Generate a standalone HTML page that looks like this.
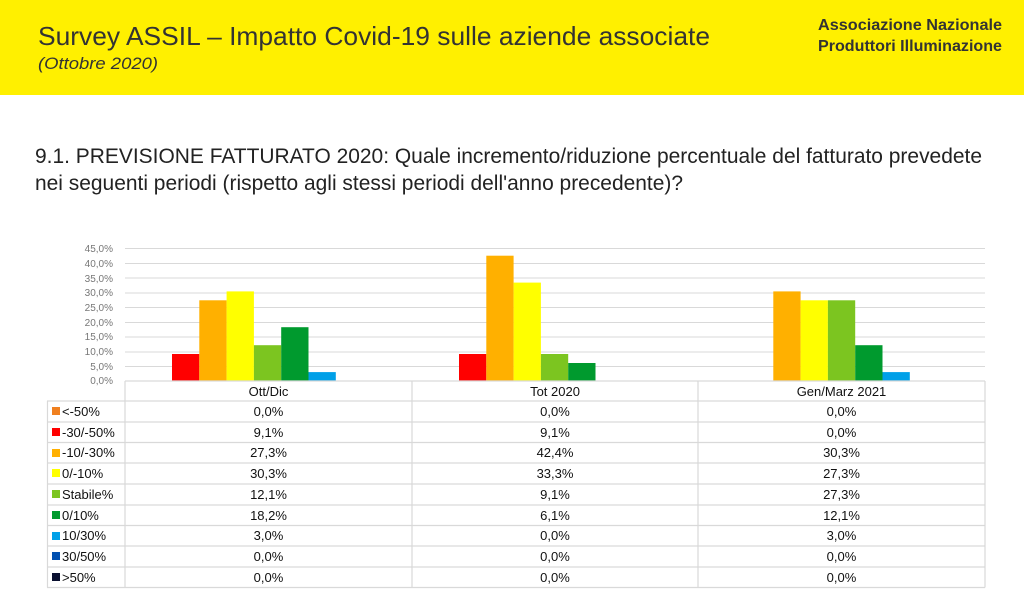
<!DOCTYPE html><html><head><meta charset="utf-8"><style>body{margin:0;background:#fff}svg{display:block}</style></head><body>
<svg width="1024" height="613" xmlns="http://www.w3.org/2000/svg" font-family="Liberation Sans, sans-serif">
<rect x="0" y="0" width="1024" height="95" fill="#FFF000"/>
<text x="38" y="45" font-size="26" fill="#333" textLength="672" lengthAdjust="spacingAndGlyphs">Survey ASSIL – Impatto Covid-19 sulle aziende associate</text>
<text x="38" y="69" font-size="17" font-style="italic" fill="#333" textLength="120" lengthAdjust="spacingAndGlyphs">(Ottobre 2020)</text>
<text x="818" y="30" font-size="16" font-weight="bold" fill="#333" textLength="184" lengthAdjust="spacingAndGlyphs">Associazione Nazionale</text>
<text x="818" y="51" font-size="16" font-weight="bold" fill="#333" textLength="184" lengthAdjust="spacingAndGlyphs">Produttori Illuminazione</text>
<text x="35" y="163" font-size="21" fill="#222" textLength="947" lengthAdjust="spacingAndGlyphs">9.1. PREVISIONE FATTURATO 2020: Quale incremento/riduzione percentuale del fatturato prevedete</text>
<text x="35" y="190" font-size="21" fill="#222" textLength="648" lengthAdjust="spacingAndGlyphs">nei seguenti periodi (rispetto agli stessi periodi dell'anno precedente)?</text>
<g stroke="#d9d9d9" stroke-width="1">
<line x1="125" y1="248.5" x2="985" y2="248.5"/><line x1="125" y1="263.5" x2="985" y2="263.5"/><line x1="125" y1="278" x2="985" y2="278"/><line x1="125" y1="293" x2="985" y2="293"/><line x1="125" y1="307.5" x2="985" y2="307.5"/><line x1="125" y1="322.5" x2="985" y2="322.5"/><line x1="125" y1="337" x2="985" y2="337"/><line x1="125" y1="352" x2="985" y2="352"/><line x1="125" y1="366.5" x2="985" y2="366.5"/>
</g>
<g font-size="10" fill="#777" text-anchor="end">
<text x="113" y="252">45,0%</text><text x="113" y="267">40,0%</text><text x="113" y="282">35,0%</text><text x="113" y="296">30,0%</text><text x="113" y="311">25,0%</text><text x="113" y="326">20,0%</text><text x="113" y="340">15,0%</text><text x="113" y="355">10,0%</text><text x="113" y="370">5,0%</text><text x="113" y="384">0,0%</text>
</g>
<g>
<rect x="172" y="354" width="27.3" height="27" fill="#FF0000"/>
<rect x="199.3" y="300.3" width="27.3" height="80.7" fill="#FFB000"/>
<rect x="226.6" y="291.4" width="27.3" height="89.6" fill="#FFFF00"/>
<rect x="253.9" y="345.2" width="27.3" height="35.8" fill="#7CC520"/>
<rect x="281.2" y="327.2" width="27.3" height="53.8" fill="#009A2E"/>
<rect x="308.5" y="372.1" width="27.3" height="8.9" fill="#00A0E8"/>
<rect x="459" y="354" width="27.3" height="27" fill="#FF0000"/>
<rect x="486.3" y="255.7" width="27.3" height="125.3" fill="#FFB000"/>
<rect x="513.6" y="282.6" width="27.3" height="98.4" fill="#FFFF00"/>
<rect x="540.9" y="354" width="27.3" height="27" fill="#7CC520"/>
<rect x="568.2" y="363" width="27.3" height="18" fill="#009A2E"/>
<rect x="773.3" y="291.4" width="27.3" height="89.6" fill="#FFB000"/>
<rect x="800.6" y="300.3" width="27.3" height="80.7" fill="#FFFF00"/>
<rect x="827.9" y="300.3" width="27.3" height="80.7" fill="#7CC520"/>
<rect x="855.2" y="345.2" width="27.3" height="35.8" fill="#009A2E"/>
<rect x="882.5" y="372.1" width="27.3" height="8.9" fill="#00A0E8"/>
</g>
<g stroke="#d9d9d9" stroke-width="1.2" fill="none">
<line x1="125" y1="381" x2="985" y2="381"/>
<line x1="47" y1="401" x2="985" y2="401"/>
<line x1="47" y1="422" x2="985" y2="422"/><line x1="47" y1="442.5" x2="985" y2="442.5"/><line x1="47" y1="463" x2="985" y2="463"/><line x1="47" y1="484" x2="985" y2="484"/><line x1="47" y1="505" x2="985" y2="505"/><line x1="47" y1="525.5" x2="985" y2="525.5"/><line x1="47" y1="546" x2="985" y2="546"/><line x1="47" y1="567" x2="985" y2="567"/><line x1="47" y1="587.5" x2="985" y2="587.5"/>
<line x1="47.5" y1="401" x2="47.5" y2="587.5"/><line x1="125" y1="381" x2="125" y2="587.5"/><line x1="412" y1="381" x2="412" y2="587.5"/><line x1="698" y1="381" x2="698" y2="587.5"/><line x1="985" y1="381" x2="985" y2="587.5"/>
</g>
<g>
<rect x="52" y="407" width="8" height="8" fill="#F08020"/>
<rect x="52" y="428" width="8" height="8" fill="#FF0000"/>
<rect x="52" y="449" width="8" height="8" fill="#FFB000"/>
<rect x="52" y="469" width="8" height="8" fill="#FFFF00"/>
<rect x="52" y="490" width="8" height="8" fill="#7CC520"/>
<rect x="52" y="511" width="8" height="8" fill="#009A2E"/>
<rect x="52" y="532" width="8" height="8" fill="#00A0E8"/>
<rect x="52" y="552" width="8" height="8" fill="#0050B0"/>
<rect x="52" y="573" width="8" height="8" fill="#0A1030"/>
</g>
<g font-size="13" fill="#111">
<text x="62" y="416">&lt;-50%</text><text x="62" y="437">-30/-50%</text><text x="62" y="457">-10/-30%</text><text x="62" y="478">0/-10%</text><text x="62" y="499">Stabile%</text><text x="62" y="520">0/10%</text><text x="62" y="540">10/30%</text><text x="62" y="561">30/50%</text><text x="62" y="582">&gt;50%</text>
</g>
<g font-size="13" fill="#111" text-anchor="middle">
<text x="268.5" y="396">Ott/Dic</text><text x="555" y="396">Tot 2020</text><text x="841.5" y="396">Gen/Marz 2021</text>
<text x="268.5" y="416">0,0%</text><text x="268.5" y="437">9,1%</text><text x="268.5" y="457">27,3%</text><text x="268.5" y="478">30,3%</text><text x="268.5" y="499">12,1%</text><text x="268.5" y="520">18,2%</text><text x="268.5" y="540">3,0%</text><text x="268.5" y="561">0,0%</text><text x="268.5" y="582">0,0%</text>
<text x="555" y="416">0,0%</text><text x="555" y="437">9,1%</text><text x="555" y="457">42,4%</text><text x="555" y="478">33,3%</text><text x="555" y="499">9,1%</text><text x="555" y="520">6,1%</text><text x="555" y="540">0,0%</text><text x="555" y="561">0,0%</text><text x="555" y="582">0,0%</text>
<text x="841.5" y="416">0,0%</text><text x="841.5" y="437">0,0%</text><text x="841.5" y="457">30,3%</text><text x="841.5" y="478">27,3%</text><text x="841.5" y="499">27,3%</text><text x="841.5" y="520">12,1%</text><text x="841.5" y="540">3,0%</text><text x="841.5" y="561">0,0%</text><text x="841.5" y="582">0,0%</text>
</g>
</svg>
</body></html>
